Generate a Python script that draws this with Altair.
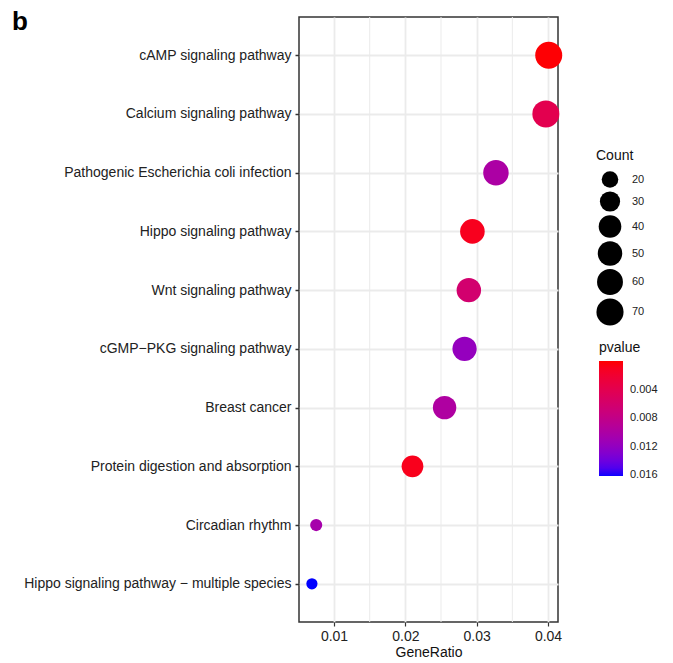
import altair as alt
import pandas as pd

pathways = [
    "cAMP signaling pathway",
    "Calcium signaling pathway",
    "Pathogenic Escherichia coli infection",
    "Hippo signaling pathway",
    "Wnt signaling pathway",
    "cGMP\u2212PKG signaling pathway",
    "Breast cancer",
    "Protein digestion and absorption",
    "Circadian rhythm",
    "Hippo signaling pathway \u2212 multiple species",
]
gene_ratio = [0.0401, 0.0397, 0.0327, 0.0294, 0.0289, 0.0283, 0.0255, 0.0210, 0.0075, 0.0069]
counts = [69, 69, 57, 51, 50, 49, 44, 36, 13, 12]
pvalues = [0.0001, 0.0040, 0.0100, 0.0010, 0.0062, 0.0118, 0.0098, 0.0009, 0.0105, 0.0161]

x_breaks = [0.01, 0.02, 0.03, 0.04]
x_minor = [0.015, 0.025, 0.035]
count_breaks = [20, 30, 40, 50, 60, 70]
p_breaks = [0.004, 0.008, 0.012, 0.016]

df = pd.DataFrame({"Description": pathways, "GeneRatio": gene_ratio,
                   "Count": counts, "pvalue": pvalues})
minor_df = pd.DataFrame({"m": x_minor})
label_df = pd.DataFrame({"t": ["b"]})

W, H = 259, 605
FONT = "Liberation Sans"

xscale = alt.Scale(domain=[0.00509, 0.0414], nice=False, zero=False)

minor = alt.Chart(minor_df).mark_rule(color="#EBEBEB", strokeWidth=1).encode(
    x=alt.X("m:Q", scale=xscale)
)

points = alt.Chart(df).transform_calculate(
    negp="-datum.pvalue"
).mark_circle(opacity=1).encode(
    x=alt.X("GeneRatio:Q", scale=xscale,
            axis=alt.Axis(values=x_breaks, format=".2f", title="GeneRatio",
                          grid=True, gridColor="#EBEBEB", gridWidth=1.8,
                          domain=False, tickColor="#333333", tickWidth=1.2, tickSize=4,
                          labelFontSize=14, labelColor="#222222", labelPadding=3,
                          titleFontSize=14, titleFontWeight="normal", titleColor="#111111",
                          titlePadding=2, labelFont=FONT, titleFont=FONT)),
    y=alt.Y("Description:N", sort=pathways,
            scale=alt.Scale(padding=0.65),
            axis=alt.Axis(title=None, grid=True, gridColor="#EBEBEB", gridWidth=2,
                          domain=False, tickColor="#333333", tickWidth=1.5, tickSize=4,
                          labelFontSize=14, labelColor="#222222", labelPadding=4,
                          labelLimit=400, labelFont=FONT)),
    size=alt.Size("Count:Q",
                  scale=alt.Scale(type="pow", exponent=0.25, domain=[12, 69],
                                  range=[125, 729], zero=False),
                  legend=alt.Legend(values=count_breaks, orient="none", legendX=297, legendY=132,
                                    title="Count", titleFontSize=14, titleFontWeight="normal",
                                    titleColor="#111111", labelFontSize=11, labelColor="#222222",
                                    symbolFillColor="black", symbolStrokeWidth=0,
                                    symbolType="circle", titleFont=FONT, labelFont=FONT,
                                    rowPadding=3, labelOffset=8, titlePadding=8)),
    color=alt.Color("negp:Q", title="pvalue",
                    scale=alt.Scale(domain=[-0.0161, 0], range=["blue", "red"],
                                    interpolate="lab", nice=False, zero=False),
                    legend=alt.Legend(values=[-v for v in p_breaks],
                                      labelExpr="format(-datum.value, '.3f')",
                                      orient="none",
                                      legendX=300, legendY=324, title="pvalue",
                                      titleFontSize=14, titleFontWeight="normal",
                                      titleColor="#111111", labelFontSize=11,
                                      labelColor="#222222", gradientLength=115,
                                      gradientThickness=24, gradientStrokeWidth=0,
                                      labelOffset=7,
                                      titleFont=FONT, labelFont=FONT, titlePadding=6)),
)

tag = alt.Chart(label_df).mark_text(fontSize=26, fontWeight="bold", font=FONT,
                                    align="left", baseline="alphabetic", color="black").encode(
    x=alt.value(-287), y=alt.value(13), text="t:N"
)

chart = alt.layer(minor, points, tag).properties(
    width=W, height=H,
    autosize=alt.AutoSizeParams(type="none"),
    padding={"left": 299, "top": 17, "right": 115, "bottom": 41},
).configure(background="white").configure_view(stroke="#333333", strokeWidth=1.5)

chart.save("out.html", embed_options={"renderer": "svg", "actions": False})
